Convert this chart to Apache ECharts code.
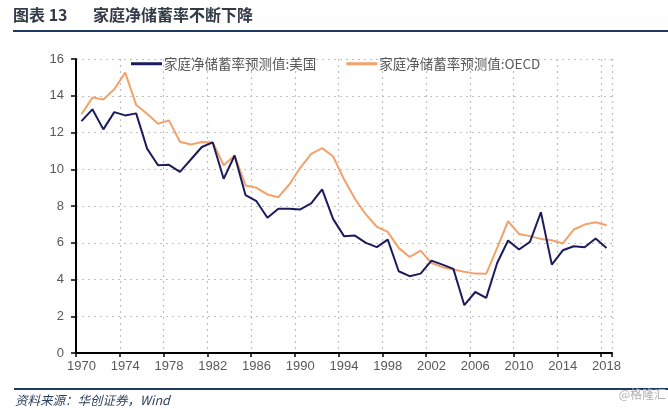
<!DOCTYPE html>
<html>
<head>
<meta charset="utf-8">
<script src="https://cdn.jsdelivr.net/npm/echarts@6/dist/echarts.min.js"></script>
<style>html,body{margin:0;padding:0;background:#fff;}#c{width:668px;height:409px;}</style>
</head>
<body>
<div id="c"></div>
<script>
var years = [];
for (var y = 1970; y <= 2018; y++) years.push(String(y));
var usValues = [12.62,13.26,12.17,13.11,12.93,13.04,11.12,10.22,10.24,9.86,10.53,11.21,11.46,
  9.48,10.75,8.59,8.26,7.36,7.85,7.85,7.81,8.14,8.9,7.3,6.36,6.39,5.99,5.76,6.17,
  4.45,4.18,4.32,5.03,4.81,4.58,2.6,3.32,3.0,4.9,6.12,5.63,6.05,7.66,4.81,5.59,5.81,5.76,6.23,5.72];
var oecdValues = [12.99,13.9,13.8,14.35,15.26,13.5,13.02,12.48,12.66,11.5,11.35,11.48,11.46,
  10.22,10.75,9.12,8.99,8.63,8.48,9.17,10.08,10.84,11.15,10.71,9.45,8.39,7.54,6.87,6.59,
  5.72,5.23,5.57,4.9,4.67,4.54,4.42,4.32,4.31,5.72,7.17,6.48,6.36,6.21,6.14,5.96,6.72,6.99,7.12,6.95];
var seriesNames = ['家庭净储蓄率预测值:美国', '家庭净储蓄率预测值:OECD'];
var titleLabel = '图表 13';
var titleText = '家庭净储蓄率不断下降';
var sourceText = '资料来源：华创证券，Wind';
var watermark = '@格隆汇';

var FONT = '"Liberation Sans", Arial, "Noto Sans CJK SC", sans-serif';
var chart = echarts.init(document.getElementById('c'), null, {renderer: 'canvas'});
chart.setOption({
  backgroundColor: '#ffffff',
  animation: false,
  textStyle: {fontFamily: FONT},
  grid: {left: 76, right: 56, top: 59, bottom: 56, containLabel: false},
  legend: {
    left: 126, top: 52, itemGap: 30, itemWidth: 31, itemHeight: 3, icon: 'rect',
    textStyle: {color: '#595959', fontSize: 13.5, fontFamily: '"Noto Sans CJK SC", sans-serif', padding: [0,0,0,-3]},
    data: seriesNames
  },
  xAxis: {
    type: 'category', data: years, boundaryGap: true,
    axisLine: {lineStyle: {color: '#000', width: 2}},
    axisTick: {show: true, interval: 3, length: 4, lineStyle: {color: '#000', width: 1.5}},
    axisLabel: {interval: 3, color: '#595959', fontSize: 13, margin: 7},
    splitLine: {show: true, interval: 3, lineStyle: {color: '#bfbfbf', type: [2, 4], width: 1.2}}
  },
  yAxis: {
    type: 'value', min: 0, max: 16, interval: 2,
    axisLine: {show: true, lineStyle: {color: '#000', width: 2}},
    axisTick: {show: true, inside: false, length: 5, lineStyle: {color: '#000', width: 1.5}},
    axisLabel: {color: '#595959', fontSize: 13, margin: 12},
    splitLine: {show: true, lineStyle: {color: '#bfbfbf', type: [2, 4], width: 1.2}}
  },
  series: [
    {name: seriesNames[0], type: 'line', data: usValues, symbol: 'none', z: 3,
     lineStyle: {color: '#1c1c5c', width: 2}, itemStyle: {color: '#1c1c5c'}},
    {name: seriesNames[1], type: 'line', data: oecdValues, symbol: 'none', z: 2,
     lineStyle: {color: '#f2a26a', width: 2}, itemStyle: {color: '#f2a26a'}}
  ],
  graphic: [
    {type: 'text', left: 13, top: 7, style: {text: titleLabel, fill: '#343b48', font: 'bold 16px "Noto Sans CJK SC", sans-serif'}},
    {type: 'text', left: 93, top: 7, style: {text: titleText, fill: '#343b48', font: 'bold 16px "Noto Sans CJK SC", sans-serif'}},
    {type: 'rect', shape: {x: 13, y: 30, width: 655, height: 2}, style: {fill: '#1f3a60'}},
    {type: 'rect', shape: {x: 14, y: 388, width: 654, height: 2}, style: {fill: '#1f3a60'}},
    {type: 'text', left: 15, top: 394, style: {text: sourceText, fill: '#2d3f5e', font: 'italic 12.5px "Noto Sans CJK SC", sans-serif'}},
    {type: 'text', right: 2, top: 388, style: {text: watermark, fill: '#b0b0b0', font: '12px "Noto Sans CJK SC", sans-serif'}}
  ]
});
</script>
</body>
</html>
